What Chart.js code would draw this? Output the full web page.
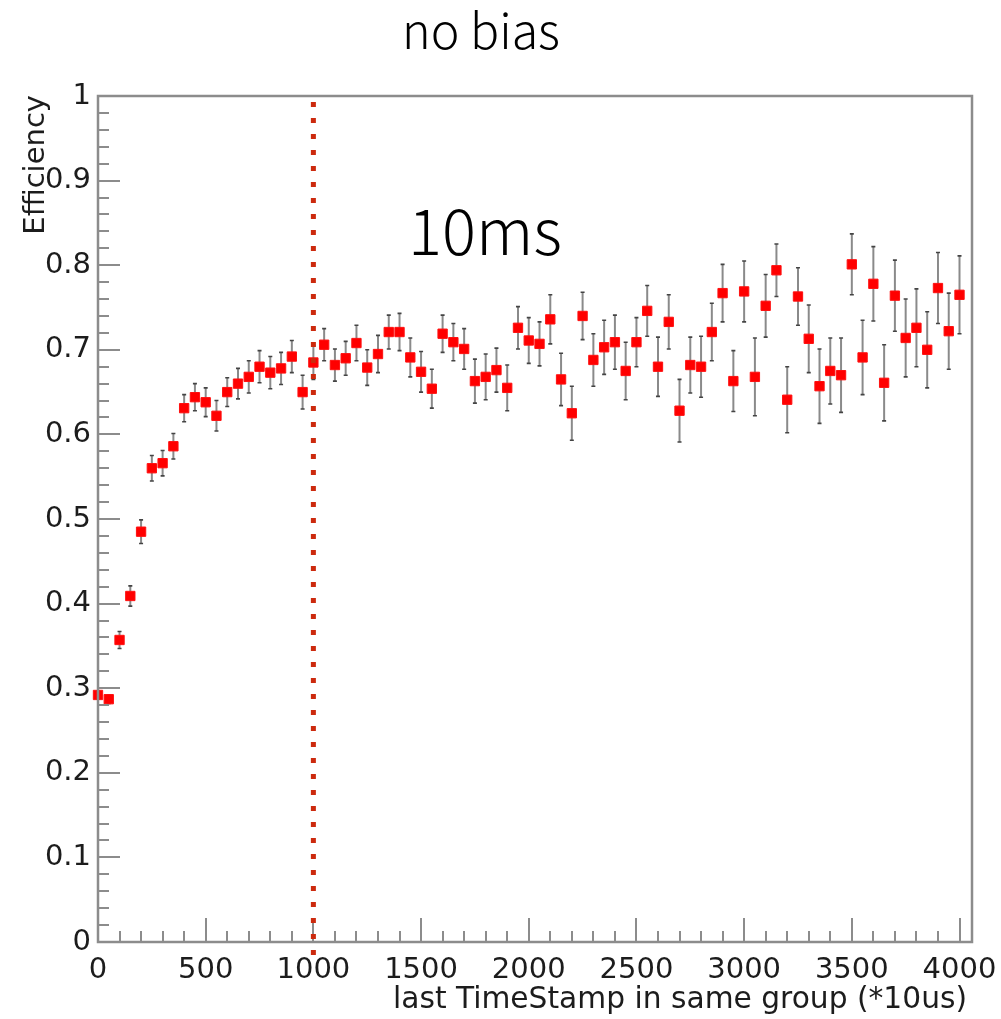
<!DOCTYPE html>
<html>
<head>
<meta charset="utf-8">
<script src="https://cdn.jsdelivr.net/npm/chart.js@4/dist/chart.umd.min.js"></script>
<style>
  html, body { margin: 0; padding: 0; background: #fff; }
  #wrap { position: relative; width: 1001px; height: 1019px; }
</style>
</head>
<body>
<div id="wrap"><canvas id="c"></canvas></div>
<script>
// ---- data ----
const timeStamps = [
  0, 50, 100, 150, 200, 250, 300, 350, 400, 450,
  500, 550, 600, 650, 700, 750, 800, 850, 900, 950,
  1000, 1050, 1100, 1150, 1200, 1250, 1300, 1350, 1400, 1450,
  1500, 1550, 1600, 1650, 1700, 1750, 1800, 1850, 1900, 1950,
  2000, 2050, 2100, 2150, 2200, 2250, 2300, 2350, 2400, 2450,
  2500, 2550, 2600, 2650, 2700, 2750, 2800, 2850, 2900, 2950,
  3000, 3050, 3100, 3150, 3200, 3250, 3300, 3350, 3400, 3450,
  3500, 3550, 3600, 3650, 3700, 3750, 3800, 3850, 3900, 3950,
  4000
];
const efficiency = [
  0.292, 0.287, 0.357, 0.409, 0.485, 0.560, 0.566, 0.586, 0.631, 0.644,
  0.638, 0.622, 0.650, 0.660, 0.668, 0.680, 0.673, 0.678, 0.692, 0.650,
  0.685, 0.706, 0.682, 0.690, 0.708, 0.679, 0.695, 0.721, 0.721, 0.691,
  0.674, 0.654, 0.719, 0.709, 0.701, 0.663, 0.668, 0.676, 0.655, 0.726,
  0.711, 0.707, 0.736, 0.665, 0.625, 0.740, 0.688, 0.703, 0.709, 0.675,
  0.709, 0.746, 0.680, 0.733, 0.628, 0.682, 0.680, 0.721, 0.767, 0.663,
  0.769, 0.668, 0.752, 0.794, 0.641, 0.763, 0.713, 0.657, 0.675, 0.670,
  0.801, 0.691, 0.778, 0.661, 0.764, 0.714, 0.726, 0.700, 0.773, 0.722,
  0.765
];
const efficiencyErr = [
  0.005, 0.005, 0.010, 0.012, 0.014, 0.015, 0.015, 0.015, 0.016, 0.016,
  0.017, 0.018, 0.017, 0.018, 0.019, 0.019, 0.019, 0.019, 0.019, 0.020,
  0.020, 0.019, 0.019, 0.020, 0.021, 0.021, 0.022, 0.020, 0.022, 0.023,
  0.024, 0.023, 0.022, 0.022, 0.024, 0.026, 0.027, 0.026, 0.027, 0.025,
  0.027, 0.026, 0.029, 0.031, 0.032, 0.028, 0.031, 0.032, 0.032, 0.034,
  0.029, 0.030, 0.035, 0.032, 0.037, 0.033, 0.036, 0.034, 0.034, 0.036,
  0.036, 0.046, 0.037, 0.031, 0.039, 0.034, 0.040, 0.044, 0.039, 0.044,
  0.036, 0.044, 0.044, 0.045, 0.042, 0.046, 0.046, 0.045, 0.042, 0.045,
  0.046
];
const xTickLabels = [0, 500, 1000, 1500, 2000, 2500, 3000, 3500, 4000];
const yTickLabels = [0, 0.1, 0.2, 0.3, 0.4, 0.5, 0.6, 0.7, 0.8, 0.9, 1];
const markerLineX = 1000;           // vertical dotted line position
const titleText = 'no bias';
const annotationText = '10ms';
const xAxisTitle = 'last TimeStamp in same group (*10us)';
const yAxisTitle = 'Efficiency';
const xMinorStep = 100;
const yMinorStep = 0.02;

// ---- styling ----
const ROOT_FONT = 'DejaVu Sans';
const CJK_FONT = '"Noto Sans CJK JP", "Noto Sans", sans-serif';
const TEXT_COL = '#1c1c1c';
const FRAME_COL = '#8c8c8c';

function fitFont(ctx, text, weight, family, targetW) {
  ctx.font = weight + ' 50px ' + family;
  const w = ctx.measureText(text).width;
  return 50 * targetW / w;
}

const decorPlugin = {
  id: 'decor',
  beforeDatasetsDraw(chart) {
    const ctx = chart.ctx, xs = chart.scales.x, ys = chart.scales.y;
    ctx.save();
    for (let i = 0; i < timeStamps.length; i++) {
      const px = xs.getPixelForValue(timeStamps[i]);
      const yTop = ys.getPixelForValue(efficiency[i] + efficiencyErr[i]);
      const yBot = ys.getPixelForValue(efficiency[i] - efficiencyErr[i]);
      ctx.strokeStyle = '#8a8a8a';
      ctx.lineWidth = 2;
      ctx.beginPath();
      ctx.moveTo(px, yTop); ctx.lineTo(px, yBot);
      ctx.stroke();
      ctx.strokeStyle = '#444';
      ctx.lineWidth = 1.6;
      ctx.beginPath();
      ctx.moveTo(px - 2, yTop); ctx.lineTo(px + 2, yTop);
      ctx.moveTo(px - 2, yBot); ctx.lineTo(px + 2, yBot);
      ctx.stroke();
    }
    ctx.restore();
  },
  afterDraw(chart) {
    const ctx = chart.ctx, xs = chart.scales.x, ys = chart.scales.y;
    const a = chart.chartArea;
    ctx.save();
    ctx.strokeStyle = FRAME_COL;
    ctx.lineWidth = 2;
    ctx.beginPath();
    const yMajor = new Set(ys.ticks.map(t => Math.round(t.value * 1000)));
    for (let k = 0; k * yMinorStep <= ys.max + 1e-9; k++) {
      const v = k * yMinorStep;
      const major = yMajor.has(Math.round(v * 1000));
      const py = Math.round(ys.getPixelForValue(v));
      ctx.moveTo(a.left, py);
      ctx.lineTo(a.left + (major ? 22 : 11), py);
    }
    const xMajor = new Set(xs.ticks.map(t => Math.round(t.value)));
    for (let k = 0; k * xMinorStep <= xs.max; k++) {
      const v = k * xMinorStep;
      const major = xMajor.has(v);
      const px = Math.round(xs.getPixelForValue(v));
      ctx.moveTo(px, a.bottom);
      ctx.lineTo(px, a.bottom - (major ? 24 : 11));
    }
    ctx.stroke();
    ctx.lineWidth = 2.5;
    ctx.strokeRect(a.left, a.top, a.right - a.left, a.bottom - a.top);

    // dotted vertical line
    const lx = xs.getPixelForValue(markerLineX);
    ctx.strokeStyle = '#cc2a0e';
    ctx.lineWidth = 5;
    ctx.lineCap = 'butt';
    ctx.setLineDash([5, 11]);
    ctx.beginPath();
    ctx.moveTo(lx, a.top + 6);
    ctx.lineTo(lx, a.bottom + 14);
    ctx.stroke();
    ctx.setLineDash([]);

    // titles
    ctx.fillStyle = '#000';
    ctx.textBaseline = 'alphabetic';
    let s = fitFont(ctx, titleText, 300, CJK_FONT, 158);
    ctx.font = '300 ' + s + 'px ' + CJK_FONT;
    ctx.textAlign = 'left';
    ctx.fillText(titleText, 402, 49);

    s = fitFont(ctx, annotationText, 300, CJK_FONT, 154);
    ctx.font = '300 ' + s + 'px ' + CJK_FONT;
    ctx.fillText(annotationText, 408, 255);

    // axis titles
    ctx.fillStyle = TEXT_COL;
    ctx.font = '29.7px ' + ROOT_FONT;
    ctx.textAlign = 'right';
    ctx.fillText(xAxisTitle, 967, 1008);

    ctx.font = '29px ' + ROOT_FONT;
    ctx.translate(44, 95);
    ctx.rotate(-Math.PI / 2);
    ctx.textAlign = 'right';
    ctx.fillText(yAxisTitle, 0, 0);
    ctx.restore();
  }
};

new Chart(document.getElementById('c'), {
  type: 'scatter',
  data: {
    datasets: [{
      data: timeStamps.map((t, i) => ({ x: t, y: efficiency[i] })),
      pointStyle: 'rect',
      pointRadius: 6.6,
      pointBorderWidth: 1,
      backgroundColor: '#ff0000',
      borderColor: '#ff1010',
      clip: false
    }]
  },
  options: {
    responsive: true,
    maintainAspectRatio: false,
    animation: false,
    devicePixelRatio: 1,
    layout: { padding: { top: 96, right: 29, left: 0, bottom: 0 } },
    plugins: { legend: { display: false }, tooltip: { enabled: false }, title: { display: false } },
    scales: {
      x: {
        type: 'linear',
        min: 0, max: 4058,
        grid: { display: false, drawTicks: false },
        border: { display: false },
        afterBuildTicks(scale) { scale.ticks = xTickLabels.map(v => ({ value: v })); },
        afterFit(scale) {
          scale.height = 77;
          scale.paddingRight = 0; scale.paddingLeft = 0;
        },
        ticks: {
          autoSkip: false,
          maxRotation: 0,
          padding: 11,
          color: TEXT_COL,
          font: { family: ROOT_FONT, size: 29 },
          callback: v => String(v)
        }
      },
      y: {
        type: 'linear',
        min: 0, max: 1,
        grid: { display: false, drawTicks: false },
        border: { display: false },
        afterBuildTicks(scale) { scale.ticks = yTickLabels.map(v => ({ value: v })); },
        afterFit(scale) { scale.width = 98; scale.paddingTop = 0; scale.paddingBottom = 0; },
        ticks: {
          autoSkip: false,
          padding: 7,
          color: TEXT_COL,
          font: { family: ROOT_FONT, size: 29 },
          callback: v => String(v)
        }
      }
    }
  },
  plugins: [decorPlugin]
});
</script>
</body>
</html>
